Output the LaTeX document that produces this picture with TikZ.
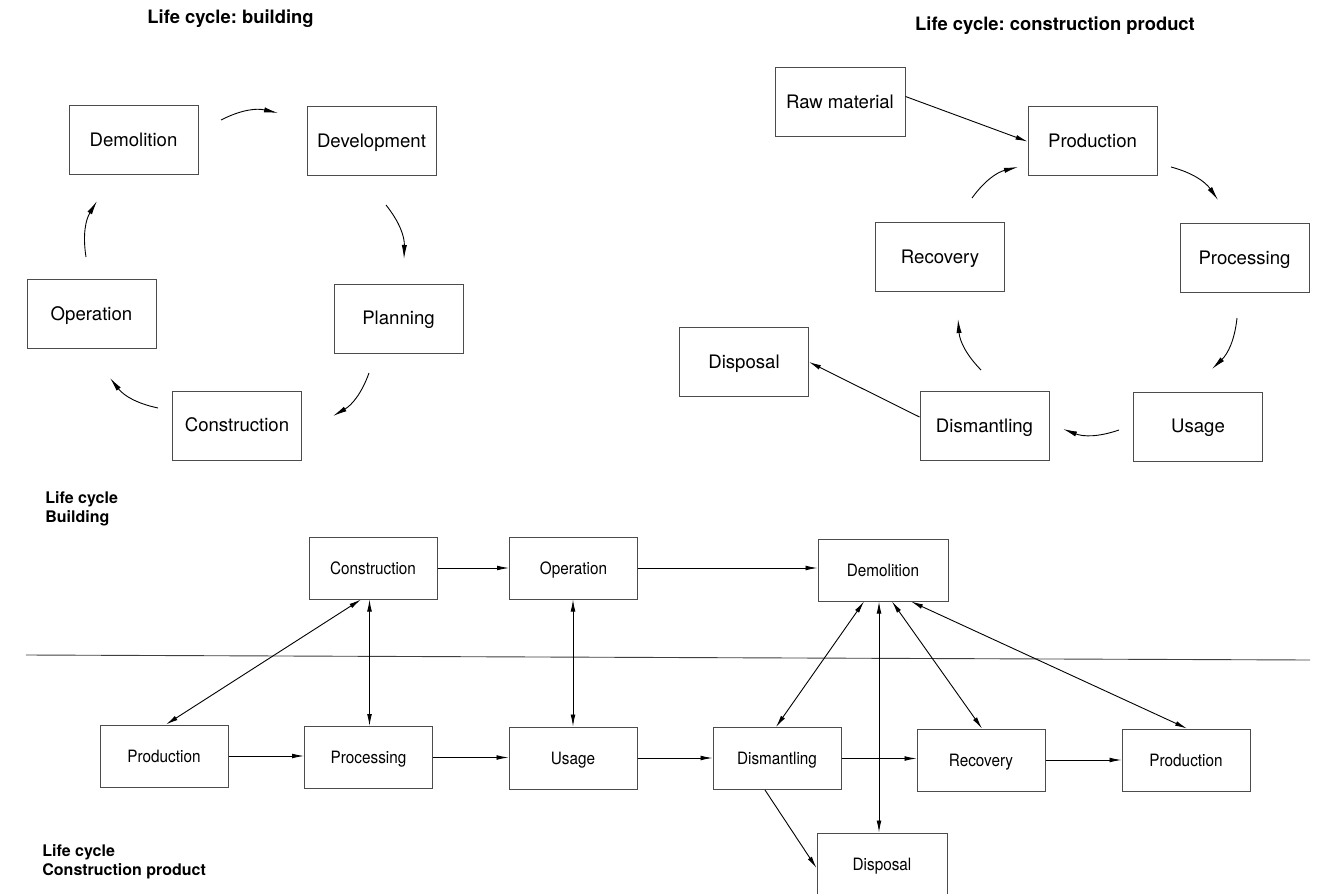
\documentclass[tikz,border=0pt]{standalone}
\usepackage{fontspec}
\setmainfont{TeX Gyre Heros}
\newfontfamily\condfont{TeX Gyre Heros}[FakeStretch=0.9]
\usetikzlibrary{arrows.meta,calc}
\frenchspacing
\begin{document}
\begin{tikzpicture}[x=0.5pt,y=-0.5pt,
  bigbox/.style={draw=black!70, line width=0.5pt, minimum width=64.5pt, minimum height=34.5pt, inner sep=0pt, text height=1.6ex, text depth=0.45ex, font=\fontsize{9.3}{11}\selectfont},
  smallbox/.style={draw=black!70, line width=0.5pt, minimum width=64pt, minimum height=31pt, inner sep=0pt, text height=1.6ex, text depth=0.45ex, font=\condfont\fontsize{8.5}{10}\selectfont},
  arc/.style={line width=0.45pt, -{Latex[length=7pt,width=2.6pt]}},
  link/.style={line width=0.45pt, -{Latex[length=6pt,width=2.4pt]}},
  dlink/.style={line width=0.45pt, {Latex[length=6pt,width=2.4pt]}-{Latex[length=6pt,width=2.4pt]}},
  title/.style={font=\bfseries\fontsize{9.2}{11}\selectfont},
  side/.style={font=\bfseries\fontsize{8}{9.5}\selectfont, align=left, anchor=west, inner sep=0pt}]
\clip (0,0) rectangle (1326,893);
\fill[white] (0,0) rectangle (1326,893);

% ---------- titles ----------
\node[title] (t1) at (230.5,19) {Life cycle: building};
\node[title] (t2) at (1055,26) {Life cycle: construction product};

% ---------- top-left cycle ----------
\node[bigbox] (dem) at (133.5,140.5) {Demolition};
\node[bigbox] (dev) at (371.5,141.5) {Development};
\node[bigbox] (pla) at (398.5,318.5) {Planning};
\node[bigbox] (ope) at (91.5,314) {Operation};
\node[bigbox] (con) at (237,425.5) {Construction};

\coordinate (c1s) at (221,120); \coordinate (c1e) at (278,113);
\coordinate (c2s) at (386,205); \coordinate (c2e) at (404,259);
\coordinate (c3s) at (369,373); \coordinate (c3e) at (333,416);
\coordinate (c4s) at (158,408); \coordinate (c4e) at (110,378);
\coordinate (c5s) at (86,257);  \coordinate (c5e) at (97,201);
\draw[arc] (c1s) to[bend left=20] (c1e);
\draw[arc] (c2s) to[bend left=20] (c2e);
\draw[arc] (c3s) to[bend left=20] (c3e);
\draw[arc] (c4s) to[bend left=20] (c4e);
\draw[arc] (c5s) to[bend left=20] (c5e);

% ---------- top-right cycle ----------
\node[bigbox, minimum width=65pt] (raw) at (840,102.5) {Raw material};
\node[bigbox] (tprod) at (1092.5,141.5) {Production};
\node[bigbox] (trec) at (940,257) {Recovery};
\node[bigbox] (tproc) at (1244.5,258) {Processing};
\node[bigbox] (tdisp) at (744,362) {Disposal};
\node[bigbox] (tdis) at (984.5,426) {Dismantling};
\node[bigbox] (tuse) at (1198,426.5) {Usage};

\draw[link] ($(raw.east)+(0,-6)$) -- (tprod.west);
\draw[link] ($(tdis.west)+(0,-9)$) -- (tdisp.east);

\coordinate (p1s) at (1171,167); \coordinate (p1e) at (1218,200);
\coordinate (p2s) at (1237,318); \coordinate (p2e) at (1212,369);
\coordinate (p3s) at (1119,430); \coordinate (p3e) at (1063,429);
\coordinate (p4s) at (981,370);  \coordinate (p4e) at (958,319);
\coordinate (p5s) at (972,198);  \coordinate (p5e) at (1018,167);
\draw[arc] (p1s) to[bend left=20] (p1e);
\draw[arc] (p2s) to[bend left=20] (p2e);
\draw[arc] (p3s) to[bend left=20] (p3e);
\draw[arc] (p4s) to[bend left=20] (p4e);
\draw[arc] (p5s) to[bend left=20] (p5e);

% ---------- bottom ----------
\node[side] (lb) at (45,509) {Life cycle\\Building};
\node[side] (lp) at (42,862) {Life cycle\\Construction product};

\coordinate (hl) at (26,655);
\coordinate (hr) at (1310,660);
\draw[line width=0.45pt, black!75] (hl) -- (hr);

\node[smallbox] (bcon) at (373,568) {Construction};
\node[smallbox] (bop) at (573.5,568) {Operation};
\node[smallbox, minimum width=65pt] (bdem) at (883,570) {Demolition};
\node[smallbox] (bprod) at (164,756) {Production};
\node[smallbox] (bproc) at (368.5,757.5) {Processing};
\node[smallbox] (buse) at (573,758) {Usage};
\node[smallbox] (bdis) at (777,758.5) {Dismantling};
\node[smallbox] (brec) at (981,760) {Recovery};
\node[smallbox] (bprod2) at (1186,760) {Production};
\node[smallbox, minimum width=65pt] (bdisp) at (882,864) {Disposal};

\draw[link] (bcon.east) -- (bop.west);
\draw[link] (bop.east) -- (bop.east -| bdem.west);
\draw[link] (bprod.east) -- (bprod.east -| bproc.west);
\draw[link] (bproc.east) -- (bproc.east -| buse.west);
\draw[link] (buse.east) -- (buse.east -| bdis.west);
\draw[link] (bdis.east) -- (bdis.east -| brec.west);
\draw[link] (brec.east) -- (brec.east -| bprod2.west);

\coordinate (pn) at ($(bproc.north)+(1,0)$);
\draw[dlink] ($(bcon.south)+(-12,0)$) -- ($(bprod.north)+(2,0)$);
\draw[dlink] (pn) -- (pn |- bcon.south);
\draw[dlink] (buse.north) -- (buse.north |- bop.south);

\draw[dlink] ($(bdem.south)+(-19,0)$) -- ($(bdis.north)+(-1,0)$);
\draw[dlink] ($(bdem.south)+(-4,0)$) -- ($(bdisp.north)+(-3,0)$);
\draw[dlink] ($(bdem.south)+(9,0)$) -- ($(brec.north)+(1,0)$);
\draw[dlink] ($(bdem.south)+(28,0)$) -- ($(bprod2.north)+(1,0)$);
\draw[link] ($(bdis.south)+(-12,0)$) -- ($(bdisp.west)+(0,4)$);
\end{tikzpicture}
\end{document}
